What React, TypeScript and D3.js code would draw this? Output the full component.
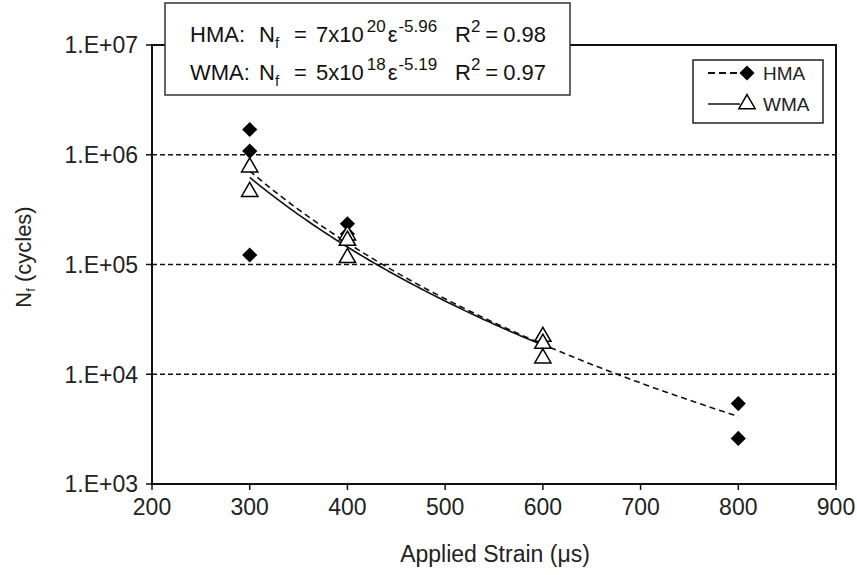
import React from "react";
import * as d3 from "d3";

// Fatigue life vs applied strain, HMA and WMA beams
const hmaStrain = [300, 300, 300, 400, 400, 400, 800, 800];
const hmaCycles = [1.7e6, 1.08e6, 1.22e5, 2.35e5, 1.9e5, 1.7e5, 5.4e3, 2.6e3];
const wmaStrain = [300, 300, 400, 400, 400, 600, 600, 600];
const wmaCycles = [7.7e5, 4.6e5, 1.85e5, 1.65e5, 1.15e5, 2.2e4, 1.9e4, 1.4e4];

const xTicks = [200, 300, 400, 500, 600, 700, 800, 900];
const yTicks = [1e3, 1e4, 1e5, 1e6, 1e7];
const gridValues = [1e4, 1e5, 1e6];

// Fitted-equation annotations shown in the box
const equations = [
  { mix: "HMA:", coef: "7x10", exp: "20", power: "-5.96", r2: "0.98" },
  { mix: "WMA:", coef: "5x10", exp: "18", power: "-5.19", r2: "0.97" },
];

const W = 857;
const H = 575;
const FONT = "'Liberation Sans', Arial, sans-serif";

// Least-squares power trendline (fit in log-log space)
function powerFit(xs: number[], ys: number[]) {
  const lx = xs.map((v) => Math.log10(v));
  const ly = ys.map((v) => Math.log10(v));
  const mx = d3.mean(lx)!;
  const my = d3.mean(ly)!;
  let sxy = 0;
  let sxx = 0;
  lx.forEach((v, i) => {
    sxy += (v - mx) * (ly[i] - my);
    sxx += (v - mx) * (v - mx);
  });
  const m = sxy / sxx;
  const b = my - m * mx;
  return (x: number) => Math.pow(10, b + m * Math.log10(x));
}

function trend(xs: number[], ys: number[]) {
  const f = powerFit(xs, ys);
  const [lo, hi] = d3.extent(xs) as [number, number];
  return d3.range(0, 81).map((i) => {
    const x = lo + ((hi - lo) * i) / 80;
    return [x, f(x)] as [number, number];
  });
}

export default function App() {
  const left = 152;
  const right = 836;
  const top = 45;
  const bottom = 484;

  const x = d3.scaleLinear().domain([200, 900]).range([left, right]);
  const y = d3.scaleLog().domain([1e3, 1e7]).range([bottom, top]);

  const line = d3
    .line<[number, number]>()
    .x((d) => x(d[0]))
    .y((d) => y(d[1]));

  const hmaTrend = trend(hmaStrain, hmaCycles);
  const wmaTrend = trend(wmaStrain, wmaCycles);

  const diamond = d3.symbol(d3.symbolSquare, 115)()!;
  const triangle = d3.symbol(d3.symbolTriangle, 115)()!;

  const fmt = (v: number) => `1.E+0${Math.round(Math.log10(v))}`;

  return (
    <svg
      width={W}
      height={H}
      style={{ position: "absolute", left: 0, top: 0, background: "#fff" }}
      fontFamily={FONT}
    >
      <rect x={0} y={0} width={W} height={H} fill="#fff" />

      {/* dashed gridlines */}
      {gridValues.map((v) => (
        <line
          key={v}
          x1={left}
          x2={right}
          y1={y(v)}
          y2={y(v)}
          stroke="#111"
          strokeWidth={1.3}
          strokeDasharray="5,3"
        />
      ))}

      {/* trendlines */}
      <path d={line(wmaTrend)!} fill="none" stroke="#111" strokeWidth={1.6} />
      <path
        d={line(hmaTrend)!}
        fill="none"
        stroke="#111"
        strokeWidth={1.6}
        strokeDasharray="6,4"
      />

      {/* markers */}
      {hmaStrain.map((s, i) => (
        <path
          key={"h" + i}
          d={diamond}
          transform={`translate(${x(s)},${y(hmaCycles[i])}) rotate(45)`}
          fill="#000"
        />
      ))}
      {wmaStrain.map((s, i) => (
        <path
          key={"w" + i}
          d={triangle}
          transform={`translate(${x(s)},${y(wmaCycles[i])})`}
          fill="#fff"
          stroke="#000"
          strokeWidth={1.5}
        />
      ))}

      {/* plot frame */}
      <rect
        x={left}
        y={top}
        width={right - left}
        height={bottom - top}
        fill="none"
        stroke="#111"
        strokeWidth={2}
      />

      {/* y axis ticks and labels */}
      {yTicks.map((v) => (
        <g key={v}>
          <line x1={left - 6} x2={left} y1={y(v)} y2={y(v)} stroke="#111" strokeWidth={1.5} />
          <text x={left - 14} y={y(v)} dy="0.36em" textAnchor="end" fontSize={23} fill="#222">
            {fmt(v)}
          </text>
        </g>
      ))}

      {/* x axis ticks and labels */}
      {xTicks.map((v) => (
        <g key={v}>
          <line x1={x(v)} x2={x(v)} y1={bottom} y2={bottom + 6} stroke="#111" strokeWidth={1.5} />
          <text x={x(v)} y={bottom + 31} textAnchor="middle" fontSize={23} fill="#222">
            {v}
          </text>
        </g>
      ))}

      {/* axis titles */}
      <text x={495} y={562} textAnchor="middle" fontSize={23} fill="#222">
        Applied Strain (μs)
      </text>
      <text
        transform="translate(31,257) rotate(-90)"
        textAnchor="middle"
        fontSize={22}
        fill="#222"
      >
        N<tspan fontSize={13} dy={4}>f</tspan>
        <tspan dy={-4}> (cycles)</tspan>
      </text>

      {/* equation box */}
      <rect x={165} y={3} width={405} height={92} fill="#fff" stroke="#333" strokeWidth={1.5} />
      {equations.map((e, i) => {
        const base = 42 + i * 38;
        return (
          <g key={e.mix} fontSize={22} fill="#111">
            <text x={190} y={base}>{e.mix}</text>
            <text x={259} y={base}>
              N<tspan fontSize={15} dy={6}>f</tspan>
            </text>
            <text x={294} y={base}>=</text>
            <text x={316} y={base}>
              {e.coef}
              <tspan fontSize={17} dy={-10} dx={3}>{e.exp}</tspan>
              <tspan dy={10} dx={2}>ε</tspan>
              <tspan fontSize={17} dy={-10} dx={1}>{e.power}</tspan>
            </text>
            <text x={455} y={base}>
              R<tspan fontSize={17} dy={-10}>2</tspan>
              <tspan dy={10} dx={5}>=</tspan>
              <tspan dx={5}>{e.r2}</tspan>
            </text>
          </g>
        );
      })}

      {/* legend */}
      <rect x={693} y={60} width={130} height={63} fill="#fff" stroke="#222" strokeWidth={1.5} />
      <line x1={708} x2={740} y1={73} y2={73} stroke="#111" strokeWidth={2.2} strokeDasharray="7,4" />
      <path d={diamond} transform="translate(747,73) rotate(45)" fill="#000" />
      <text x={763} y={80} fontSize={19} fill="#222">HMA</text>
      <line x1={708} x2={740} y1={104} y2={104} stroke="#111" strokeWidth={1.5} />
      <path d={triangle} transform="translate(747,104)" fill="#fff" stroke="#000" strokeWidth={1.5} />
      <text x={763} y={111} fontSize={19} fill="#222">WMA</text>
    </svg>
  );
}
